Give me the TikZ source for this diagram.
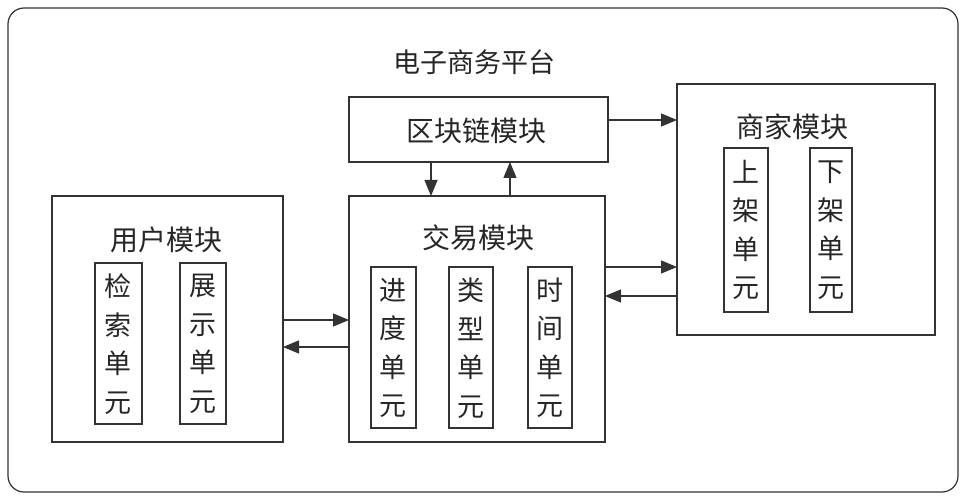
\documentclass[tikz,border=0pt]{standalone}
\usepackage{fontspec}
\newfontfamily\cjk{Noto Sans CJK SC}
\usetikzlibrary{arrows.meta}
\begin{document}
\begin{tikzpicture}[x=1pt,y=-1pt,
  box/.style={draw=black!80,line width=1.2pt},
  lbl/.style={font=\cjk\fontsize{28}{30}\selectfont,text=black!85},
  unit/.style={font=\cjk\fontsize{27}{38.5}\selectfont,text=black!85,align=center},
  arr/.style={draw=black!80,line width=1.2pt,-{Triangle[length=16pt,width=13pt]}}]
\useasboundingbox (0,0) rectangle (967,500);
\draw[box,rounded corners=16pt] (8,8) rectangle (958,492);
\node[lbl,font=\cjk\fontsize{27}{30}\selectfont] (title) at (474,62) {电子商务平台};
% blockchain
\draw[box] (349,97) rectangle (608,162);
\coordinate (bcS1) at (431,162);
\coordinate (bcS2) at (510,162);
\coordinate (bcE) at (608,120);
\node[lbl] (bc) at (476,131) {区块链模块};
% merchant
\draw[box] (677,84) rectangle (935,335);
\node[lbl] (mer) at (792,127) {商家模块};
\draw[box] (724,148) rectangle (768,312);
\node[unit] (up) at (746,230) {上\\架\\单\\元};
\draw[box] (810,148) rectangle (852,312);
\node[unit] (down) at (831,230) {下\\架\\单\\元};
% trade
\draw[box] (349,196) rectangle (605,442);
\node[lbl] (tr) at (478,238) {交易模块};
\draw[box] (371,267) rectangle (416,428);
\node[unit] (jd) at (393,348) {进\\度\\单\\元};
\draw[box] (449,267) rectangle (493,428);
\node[unit] (lx) at (471,348) {类\\型\\单\\元};
\draw[box] (528,267) rectangle (572,428);
\node[unit] (sj) at (550,348) {时\\间\\单\\元};
% user
\draw[box] (52,196) rectangle (283,442);
\node[lbl] (us) at (166,240) {用户模块};
\draw[box] (95,263) rectangle (142,424);
\node[unit] (js) at (118,344) {检\\索\\单\\元};
\draw[box] (180,263) rectangle (226,424);
\node[unit] (zs) at (203,344) {展\\示\\单\\元};
% arrow anchors
\coordinate (trN1) at (431,196);
\coordinate (trN2) at (510,196);
\coordinate (merW1) at (677,120);
\coordinate (trE1) at (605,267);
\coordinate (merW2) at (677,267);
\coordinate (trE2) at (605,296);
\coordinate (merW3) at (677,296);
\coordinate (usE1) at (283,320);
\coordinate (trW1) at (349,320);
\coordinate (usE2) at (283,347);
\coordinate (trW2) at (349,347);
\draw[arr] (bcS1) -- (trN1);
\draw[arr] (trN2) -- (bcS2);
\draw[arr] (bcE) -- (merW1);
\draw[arr] (trE1) -- (merW2);
\draw[arr] (merW3) -- (trE2);
\draw[arr] (usE1) -- (trW1);
\draw[arr] (trW2) -- (usE2);
\end{tikzpicture}
\end{document}
